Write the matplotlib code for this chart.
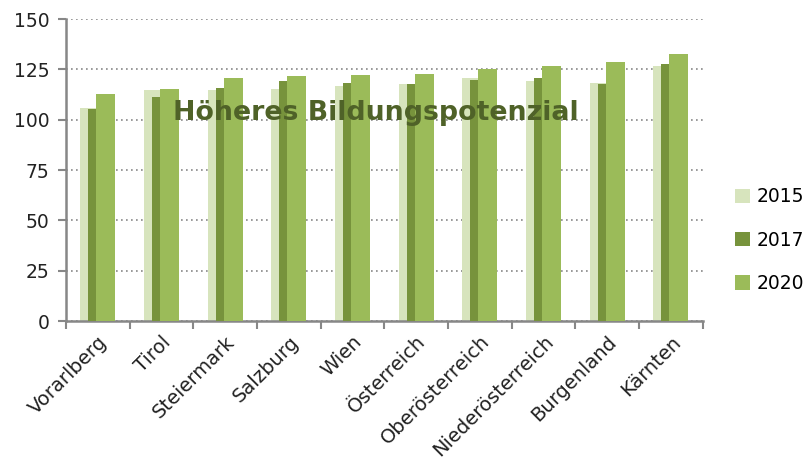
import numpy as np
import matplotlib.pyplot as plt
from matplotlib.ticker import FixedLocator

# Data
regions = ['Vorarlberg', 'Tirol', 'Steiermark', 'Salzburg', 'Wien', 'Österreich',
           'Oberösterreich', 'Niederösterreich', 'Burgenland', 'Kärnten']
values_2015 = [105.9, 114.7, 114.7, 115.2, 116.7, 117.8, 120.7, 119.3, 118.3, 126.8]
values_2017 = [105.3, 111.1, 115.8, 119.2, 118.3, 118.0, 119.7, 121.0, 118.0, 127.6]
values_2020 = [112.6, 115.5, 121.0, 122.0, 122.1, 122.8, 125.1, 126.8, 128.7, 132.7]
years = ['2015', '2017', '2020']
y_ticks = [0, 25, 50, 75, 100, 125, 150]

colors = ['#D7E4BD', '#77933C', '#9BBB59']
axis_grey = '#878787'
plt.rcParams['font.family'] = ['DejaVu Sans']

fig = plt.figure(figsize=(8.07, 4.68), dpi=100)
ax = fig.add_axes([0.0818, 0.314, 0.789, 0.645])

x = np.arange(len(regions))
width = 0.30
offsets = [-0.125, 0.0, 0.125]
series = [values_2015, values_2017, values_2020]

# Overlapping bars, later years drawn on top
for i, (vals, off) in enumerate(zip(series, offsets)):
    ax.bar(x + off, vals, width=width, color=colors[i], label=years[i],
           linewidth=0, zorder=2 + i)

ax.set_xlim(-0.5, len(regions) - 0.5)
ax.set_ylim(0, 150)
ax.set_yticks(y_ticks)
ax.yaxis.grid(True, linestyle=(0, (1, 2)), color=axis_grey, linewidth=1.2, zorder=0)
ax.set_axisbelow(True)

# x ticks: labels at centers, tick marks at category borders
ax.set_xticks(x)
ax.set_xticklabels(regions, rotation=45, ha='right', va='top', rotation_mode='anchor')
ax.xaxis.set_minor_locator(FixedLocator(np.arange(-0.5, len(regions), 1.0)))
ax.tick_params(axis='x', which='major', length=0, pad=8, labelsize=14, colors='#222222')
ax.tick_params(axis='x', which='minor', length=6, width=1.5, color=axis_grey)
ax.tick_params(axis='y', length=6, width=1.5, color=axis_grey, labelsize=13.5,
               labelcolor='#222222', pad=6)

for side in ['top', 'right']:
    ax.spines[side].set_visible(False)
for side in ['left', 'bottom']:
    ax.spines[side].set_color(axis_grey)
    ax.spines[side].set_linewidth(1.8)

# Title inside the plot area
ax.text(0.486, 0.666, 'Höheres Bildungspotenzial', transform=ax.transAxes,
        ha='center', va='baseline', fontsize=19.3, fontweight='bold', color='#4F6228', zorder=10)

ax.legend(loc='center left', bbox_to_anchor=(1.05, 0.268), frameon=False,
          fontsize=13.5, handlelength=0.8, handleheight=0.8, handletextpad=0.4,
          labelspacing=1.3, borderaxespad=0, borderpad=0)

fig.savefig('out.png', dpi=100)
